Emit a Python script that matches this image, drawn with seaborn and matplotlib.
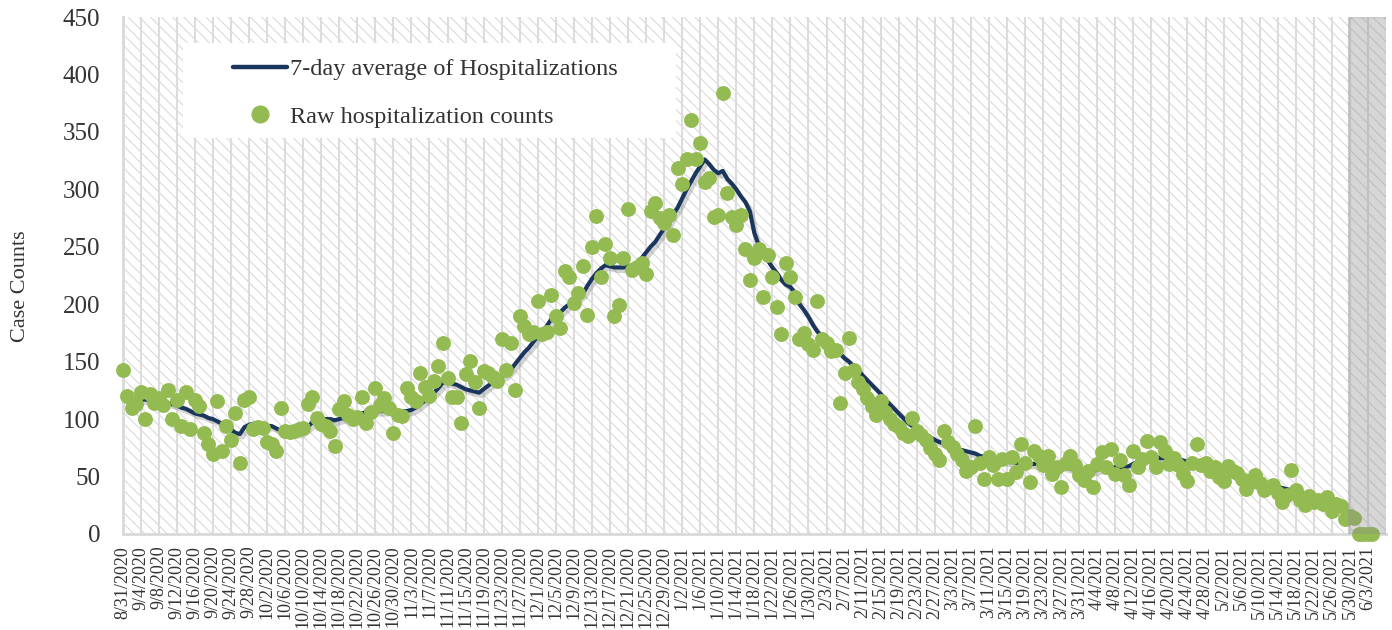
import numpy as np
import pandas as pd
import matplotlib
matplotlib.use("Agg")
import matplotlib.pyplot as plt
import matplotlib.patheffects as pe
from matplotlib.lines import Line2D
from matplotlib.patches import Rectangle
import seaborn as sns

# daily raw hospitalization counts, starting 8/31/2020
START_DATE = "2020-08-31"
raw_counts = [
    143, 120, 110, 113, 124, 100, 122, 114, 118, 112,
    125, 100, 117, 94, 124, 91, 117, 111, 88, 78,
    70, 116, 72, 94, 82, 105, 62, 117, 119, 91,
    93, 92, 80, 78, 72, 110, 90, 89, 90, 91,
    92, 113, 119, 101, 96, 94, 90, 77, 109, 116,
    104, 100, 102, 119, 97, 106, 127, 112, 118, 110,
    88, 104, 103, 127, 119, 116, 140, 128, 120, 133,
    146, 166, 136, 119, 119, 97, 139, 151, 132, 110,
    142, 140, 137, 133, 170, 143, 166, 125, 190, 181,
    174, 176, 203, 174, 176, 208, 190, 179, 229, 224,
    201, 210, 233, 191, 250, 277, 224, 252, 240, 190,
    199, 240, 283, 230, 232, 236, 226, 281, 288, 275,
    271, 278, 260, 319, 305, 326, 360, 326, 340, 306,
    310, 276, 278, 384, 297, 276, 269, 278, 248, 221,
    240, 248, 206, 243, 224, 198, 174, 236, 224, 206,
    170, 175, 165, 160, 203, 170, 166, 159, 160, 114,
    140, 171, 143, 132, 126, 118, 111, 104, 116, 106,
    100, 96, 93, 88, 85, 101, 90, 86, 82, 75,
    70, 64, 90, 80, 76, 70, 64, 55, 58, 94,
    62, 48, 67, 60, 48, 65, 48, 67, 54, 78,
    62, 45, 72, 68, 60, 68, 52, 58, 41, 62,
    68, 60, 51, 47, 55, 41, 61, 71, 58, 74,
    52, 64, 51, 43, 72, 58, 65, 81, 67, 58,
    80, 72, 61, 66, 60, 52, 46, 62, 78, 60,
    62, 55, 58, 50, 46, 59, 55, 53, 48, 39,
    45, 51, 44, 38, 41, 43, 36, 28, 34, 56,
    38, 30, 25, 33, 28, 30, 26, 32, 20, 26,
    24, 13, 16, 14, 0, 0, 0, 0,
]

# 7-day average (first 3 days have no average)
avg_7day = [
    np.nan, np.nan, np.nan, 118, 117, 117, 117, 117, 116, 115,
    114, 113, 112, 110, 109, 107, 105, 104, 103, 101,
    100, 98, 96, 94, 91, 88, 87, 93, 95, 96,
    96, 95, 94, 94, 92, 90, 89, 88, 88, 88,
    90, 93, 97, 98, 99, 100, 100, 99, 100, 101,
    100, 101, 103, 105, 106, 106, 107, 107, 107, 107,
    106, 106, 107, 107, 108, 110, 113, 116, 119, 123,
    127, 132, 132, 131, 130, 128, 126, 125, 124, 123,
    126, 129, 132, 135, 137, 139, 143, 148, 153, 158,
    162, 167, 172, 176, 181, 187, 190, 193, 197, 200,
    203, 206, 209, 216, 222, 227, 231, 234, 233, 232,
    232, 232, 233, 234, 235, 240, 245, 250, 254, 260,
    266, 271, 278, 284, 292, 300, 307, 314, 320, 326,
    322, 317, 314, 316, 309, 305, 300, 294, 289, 281,
    262, 251, 245, 238, 232, 227, 221, 217, 215, 210,
    200, 195, 189, 182, 176, 172, 168, 165, 162, 157,
    153, 150, 146, 143, 138, 134, 130, 126, 122, 117,
    113, 109, 105, 101, 97, 94, 91, 88, 85, 84,
    82, 80, 79, 77, 75, 74, 73, 72, 71, 70,
    68, 67, 66, 65, 64, 64, 63, 63, 62, 62,
    62, 61, 61, 61, 60, 60, 59, 59, 59, 58,
    57, 56, 55, 55, 55, 55, 56, 57, 57, 58,
    58, 58, 58, 59, 61, 63, 65, 67, 68, 67,
    66, 66, 65, 65, 65, 64, 63, 62, 62, 61,
    60, 60, 59, 58, 57, 56, 55, 53, 51, 50,
    49, 47, 46, 44, 43, 42, 41, 40, 39, 38,
    37, 36, 35, 34, 33, 33, 32, 31, 30, 29,
    28, np.nan, np.nan, np.nan, np.nan, np.nan, np.nan, np.nan,
]

y_ticks = [0, 50, 100, 150, 200, 250, 300, 350, 400, 450]
tick_every = 4            # a date label every 4 days
incomplete_from = 271.5   # grey band over the last, incomplete days
axis_end = 280

line_label = "7-day average of Hospitalizations"
dot_label = "Raw hospitalization counts"

dates = pd.date_range(START_DATE, periods=len(raw_counts), freq="D")
df = pd.DataFrame({"day": np.arange(len(raw_counts)), "raw": raw_counts, "avg": avg_7day})

sns.set_style("white")
plt.rcParams["font.family"] = ["Liberation Serif", "DejaVu Serif"]
plt.rcParams["hatch.color"] = "#d8d8d8"
plt.rcParams["hatch.linewidth"] = 0.75

NAVY = "#1b365d"
GREEN = "#93bb51"
TEXT = "#333333"

fig = plt.figure(figsize=(13.92, 6.3), dpi=100)
ax = fig.add_axes([0.0881, 0.1524, 0.9076, 0.8206])

# hatched plot background
ax.add_patch(Rectangle((0, 0), 1, 1, transform=ax.transAxes, facecolor="white",
                       edgecolor="#d8d8d8", hatch="\\\\\\", linewidth=0, zorder=0))

sns.lineplot(data=df, x="day", y="avg", ax=ax, color=NAVY, linewidth=3.0, zorder=3,
             path_effects=[pe.SimpleLineShadow(offset=(2, -2.5), shadow_color="#808080", alpha=0.35),
                           pe.Normal()])
sns.scatterplot(data=df, x="day", y="raw", ax=ax, color=GREEN, s=115, linewidth=0,
                zorder=4, clip_on=False)

ax.axvspan(incomplete_from, axis_end, facecolor="#8c8c8c", alpha=0.35, edgecolor="#9a9a9a",
           linewidth=1, zorder=6)

ax.set_xlim(0, axis_end)
ax.set_ylim(0, 450)
ax.set_yticks(y_ticks)
ax.set_yticklabels([str(v) for v in y_ticks], fontsize=18, color=TEXT)

tick_pos = list(range(0, len(dates), tick_every))
ax.set_xticks(tick_pos)
ax.set_xticklabels([f"{d.month}/{d.day}/{d.year}" for d in dates[tick_pos]],
                   rotation=90, fontsize=13, color=TEXT, va="top", ha="center")
ax.tick_params(axis="x", length=0, pad=8.5)
ax.tick_params(axis="y", length=0, pad=16)

ax.set_axisbelow(True)
ax.grid(axis="x", color="#dcdcdc", linewidth=1.5)
ax.grid(axis="y", visible=False)
for side in ("top", "right"):
    ax.spines[side].set_visible(False)
for side in ("left", "bottom"):
    ax.spines[side].set_color("#d9d9d9")
    ax.spines[side].set_linewidth(2)

ax.set_xlabel("")
ax.set_ylabel("Case Counts", fontsize=16, color=TEXT)
ax.yaxis.set_label_coords(-0.073, 0.48)

# legend on a white box
ax.add_patch(Rectangle((183 / 1392, 1 - 138 / 630), 493 / 1392, 95 / 630,
                       transform=fig.transFigure, facecolor="white", edgecolor="none", zorder=7))
handles = [
    Line2D([], [], color=NAVY, linewidth=3.2),
    Line2D([], [], color=GREEN, marker="o", markersize=12, linestyle="none"),
]
leg = ax.legend(handles, [line_label, dot_label], loc="upper left",
                bbox_to_anchor=(221 / 1392, 1 - 46 / 630), bbox_transform=fig.transFigure,
                frameon=False, fontsize=17.5, borderpad=0, handlelength=2.2,
                handletextpad=0.15, labelspacing=1.05, labelcolor=TEXT)
leg.set_zorder(8)

fig.savefig("out.png", dpi=100)
